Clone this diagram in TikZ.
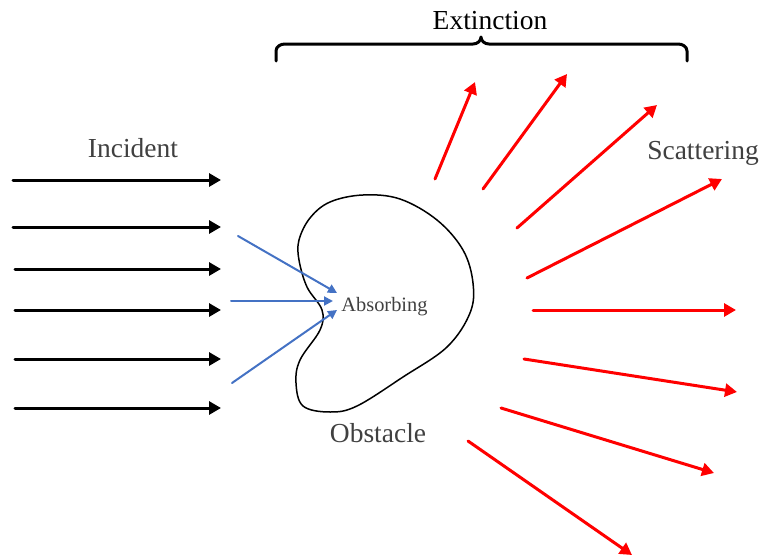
\documentclass[tikz,border=0pt]{standalone}
\usepackage{fontspec}
\setmainfont{Liberation Serif}
\usetikzlibrary{arrows.meta}
\definecolor{labelgray}{HTML}{404040}
\definecolor{absorbblue}{HTML}{4472C4}
\tikzset{
  incident/.style={line width=1.5pt, -{Triangle[length=6pt,width=6.5pt]}},
  absorb/.style={absorbblue, line width=1pt, -{Triangle[length=4.5pt,width=4.5pt]}},
  scatter/.style={red, line width=1.5pt, -{Triangle[length=6pt,width=6.5pt]}},
  biglabel/.style={text=labelgray, inner sep=0pt, anchor=base, font=\fontsize{13.75}{16}\selectfont},
  smalllabel/.style={text=labelgray, inner sep=0pt, font=\fontsize{10.2}{12}\selectfont}
}
\begin{document}
\begin{tikzpicture}
[x=0.5pt, y=-0.5pt, line join=round, line cap=round]
\useasboundingbox (0,0) rectangle (761,557);
% incident beam
\foreach \xa/\y in {13/180,13/227,15/269,15/310,15/359,15/408}
\draw[incident] (\xa,\y)--(221,\y);
\node[biglabel] (incident) at (133,157) {Incident};
% obstacle
\draw[line width=0.75pt] plot[smooth cycle, tension=0.6] coordinates {
  (363,195) (330,202) (310,218) (299,240) (299,260) (307,287) (322,310)
  (320,330) (300,360) (296,383) (303,406) (330,412) (357,406) (403,377)
  (447,347) (470,313) (473,283) (463,250) (437,220) (400,199)};
\node[biglabel] (obstacle) at (378,442) {Obstacle};
% absorbed part
\node[smalllabel, anchor=base west] (absorbing) at (341,311) {Absorbing};
\foreach \xa/\ya/\xb/\yb in {238/236/337/293, 231/301/333/301, 232/383/337/310}
\draw[absorb] (\xa,\ya)--(\xb,\yb);
% scattered part
\foreach \xa/\ya/\xb/\yb in {435/179/475/82, 483/189/567/74, 517/228/657/105,
  527/278/722/179, 533/310/736/310, 524/359/737/392, 501/408/714/473, 468/441/632/555}
\draw[scatter] (\xa,\ya)--(\xb,\yb);
\node[biglabel] (scattering) at (703,159) {Scattering};
% extinction brace
\draw[line width=1.5pt] (276,61)--(276,51) to[out=90,in=180] (285,44)--(473,44)
  to[out=0,in=-90] (481,37) to[out=-90,in=180] (489,44)--(678,44)
  to[out=0,in=90] (687,51)--(687,61);
\node[biglabel, text=black] (extinction) at (490,29) {Extinction};
\end{tikzpicture}
\end{document}
